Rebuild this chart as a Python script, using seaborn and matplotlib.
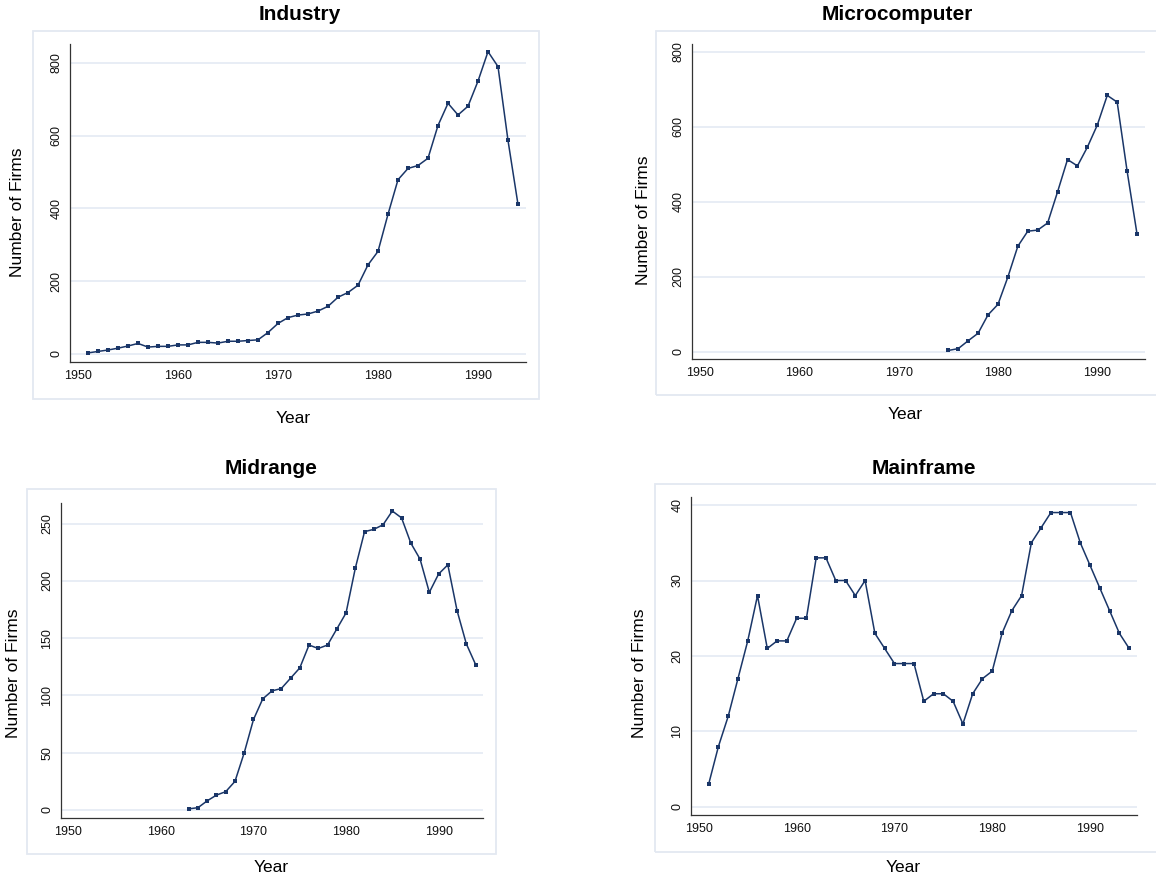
import matplotlib
matplotlib.use("Agg")
import matplotlib.pyplot as plt
from matplotlib.patches import Rectangle
import seaborn as sns

# data
industry_years = list(range(1951, 1995))
industry_firms = [3, 7, 11, 16, 22, 29, 19, 21, 21, 25, 25, 32, 32, 30, 35, 35, 37, 39,
                  59, 84, 100, 107, 110, 118, 131, 156, 169, 189, 245, 282, 384, 479,
                  510, 518, 538, 628, 689, 657, 681, 750, 831, 790, 587, 411]

micro_years = list(range(1975, 1995))
micro_firms = [4, 9, 30, 50, 99, 127, 200, 282, 322, 325, 344, 427, 513, 496, 546,
               605, 684, 666, 482, 314]

midrange_years = list(range(1963, 1995))
midrange_firms = [1, 2, 8, 13, 16, 25, 50, 79, 97, 104, 106, 115, 124, 144, 141, 144,
                  158, 172, 211, 243, 245, 249, 261, 255, 233, 219, 190, 206, 214, 174,
                  145, 127]

mainframe_years = list(range(1951, 1995))
mainframe_firms = [3, 8, 12, 17, 22, 28, 21, 22, 22, 25, 25, 33, 33, 30, 30, 28, 30, 23,
                   21, 19, 19, 19, 14, 15, 15, 14, 11, 15, 17, 18, 23, 26, 28, 35, 37,
                   39, 39, 39, 35, 32, 29, 26, 23, 21]

x_ticks = [1950, 1960, 1970, 1980, 1990]

sns.set_style("white")
plt.rcParams["font.family"] = ["Liberation Sans", "DejaVu Sans"]
plt.rcParams["text.color"] = "black"

W, H = 1156, 881
fig = plt.figure(figsize=(W / 100, H / 100), dpi=100)

line_col = "#1a3668"
grid_col = "#e2e8f2"
box_col = "#e3e8f1"

# (title, years, values, axes px [l, t, r, b], box px [l, t, r, b], ylim, yticks,
#  title pos, xlabel pos, ylabel pos)
panels = [
    ("Industry", industry_years, industry_firms, (70, 44, 526, 362), (33, 31, 539, 399),
     (-22, 852), [0, 200, 400, 600, 800], (300, 15), (293, 418), (18, 212)),
    ("Microcomputer", micro_years, micro_firms, (692, 44, 1145, 359), (656, 31, 1180, 395),
     (-18.7, 821), [0, 200, 400, 600, 800], (897, 15), (905, 415), (643, 220)),
    ("Midrange", midrange_years, midrange_firms, (61, 503, 483, 818), (27, 489, 496, 854),
     (-7, 268), [0, 50, 100, 150, 200, 250], (271, 468), (271, 867), (14, 673)),
    ("Mainframe", mainframe_years, mainframe_firms, (691, 497, 1137, 815), (655, 484, 1180, 852),
     (-1.06, 41.06), [0, 10, 20, 30, 40], (924, 468), (903, 867), (640, 673)),
]

for title, yrs, vals, ax_px, box_px, ylim, yticks, tpos, xlpos, ylpos in panels:
    # light outer frame around each plot region
    bl, bt, br, bb = box_px
    fig.patches.append(Rectangle((bl / W, 1 - bb / H), (br - bl) / W, (bb - bt) / H,
                                 transform=fig.transFigure, fill=False,
                                 edgecolor=box_col, linewidth=1.3, zorder=0))

    l, t, r, b = ax_px
    ax = fig.add_axes([l / W, 1 - b / H, (r - l) / W, (b - t) / H])
    sns.lineplot(x=yrs, y=vals, ax=ax, color=line_col, linewidth=1.1,
                 marker="s", markersize=2.2, markeredgewidth=0)

    ax.set_xlim(1949.2, 1994.8)
    ax.set_ylim(*ylim)
    ax.set_xticks(x_ticks)
    ax.set_yticks(yticks)
    ax.set_xlabel("")
    ax.set_ylabel("")
    for yv in yticks:
        ax.axhline(yv, color=grid_col, linewidth=1.1, zorder=0)

    for s in ["top", "right"]:
        ax.spines[s].set_visible(False)
    for s in ["left", "bottom"]:
        ax.spines[s].set_color("#333333")
        ax.spines[s].set_linewidth(0.9)

    ax.tick_params(axis="both", direction="out", length=3.4, width=0.8,
                   color="#333333", labelsize=9, labelcolor="#111111")
    ax.tick_params(axis="x", pad=2.5)
    ax.tick_params(axis="y", pad=2, labelrotation=90)
    for lab in ax.get_yticklabels():
        lab.set_va("center")

    fig.text(tpos[0] / W, 1 - tpos[1] / H, title, ha="center", va="center",
             fontsize=15, fontweight="bold", color="black")
    fig.text(xlpos[0] / W, 1 - xlpos[1] / H, "Year", ha="center", va="center",
             fontsize=12.5, color="black")
    fig.text(ylpos[0] / W, 1 - ylpos[1] / H, "Number of Firms", ha="center",
             va="center", rotation=90, fontsize=12.5, color="black")

fig.savefig("out.png", dpi=100)
